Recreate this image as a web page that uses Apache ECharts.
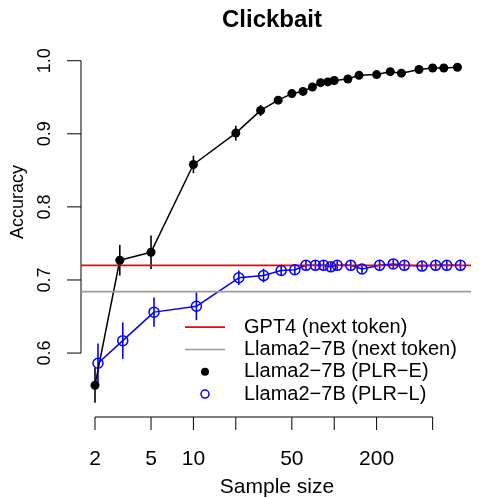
<!DOCTYPE html>
<html>
<head>
<meta charset="utf-8">
<script src="https://cdn.jsdelivr.net/npm/echarts@6/dist/echarts.min.js"></script>
<style>
html, body { margin: 0; padding: 0; background: #fff; }
#chart { width: 498px; height: 498px; }
</style>
</head>
<body>
<div id="chart"></div>
<script>
// values
var sizesE = [2, 3, 5, 10, 20, 30, 40, 50, 60, 70, 80, 90, 100, 125, 150, 200, 250, 300, 400, 500, 600, 750];
var accE = [0.556, 0.727, 0.738, 0.858, 0.901, 0.932, 0.946, 0.955, 0.958, 0.964, 0.970, 0.971, 0.973, 0.975, 0.980, 0.981, 0.985, 0.983, 0.988, 0.990, 0.990, 0.991];
var errE = [0.024, 0.021, 0.023, 0.012, 0.010, 0.0075, 0.005, 0.004, 0.003, 0.003, 0.003, 0.003, 0.003, 0.003, 0.003, 0.003, 0.003, 0.003, 0.003, 0.003, 0.003, 0.003];

var sizesL = [2.1, 3.15, 5.25, 10.5, 21, 31.5, 42, 52.5, 63, 73.5, 84, 94.5, 105, 131, 157.5, 210, 262.5, 315, 420, 525, 630, 787.5];
var accL = [0.586, 0.617, 0.656, 0.664, 0.703, 0.706, 0.713, 0.714, 0.720, 0.720, 0.720, 0.718, 0.720, 0.720, 0.715, 0.720, 0.722, 0.720, 0.719, 0.720, 0.720, 0.720];
var errL = [0.027, 0.025, 0.020, 0.019, 0.010, 0.0095, 0.007, 0.007, 0.006, 0.006, 0.006, 0.006, 0.006, 0.006, 0.006, 0.006, 0.006, 0.006, 0.006, 0.006, 0.006, 0.006];

var gpt4Acc = 0.720;
var llamaAcc = 0.684;

var xTicks = [2, 5, 10, 20, 50, 100, 200, 500];
var xTickLabels = ['2', '5', '10', '', '50', '', '200', ''];
var yTicks = [0.6, 0.7, 0.8, 0.9, 1.0];
var yTickLabels = ['0.6', '0.7', '0.8', '0.9', '1.0'];

var names = ['GPT4 (next token)', 'Llama2\u22127B (next token)', 'Llama2\u22127B (PLR\u2212E)', 'Llama2\u22127B (PLR\u2212L)'];

// plot region extent (R adds 4% around the data)
var xMin = 1.591, xMax = 936;
var yMin = 0.5125, yMax = 1.0133;

var FONT = '"Liberation Sans", Arial, sans-serif';

function zip(xs, ys) {
    return xs.map(function (x, i) { return [x, ys[i]]; });
}
function bars(xs, ys, es) {
    return xs.map(function (x, i) { return [x, ys[i] - es[i], ys[i] + es[i]]; });
}

function errorBars(color) {
    return function (params, api) {
        var a = api.coord([api.value(0), api.value(1)]);
        var b = api.coord([api.value(0), api.value(2)]);
        return {
            type: 'line',
            shape: {x1: a[0], y1: a[1], x2: b[0], y2: b[1]},
            style: {stroke: color, lineWidth: 1.6}
        };
    };
}

function renderXAxis(params, api) {
    var p = api.coord([api.value(0), yMin]);
    var kids = [{
        type: 'line',
        shape: {x1: p[0], y1: p[1], x2: p[0], y2: p[1] + 13},
        style: {stroke: '#000', lineWidth: 1}
    }];
    var lbl = xTickLabels[params.dataIndex];
    if (lbl) {
        kids.push({
            type: 'text', x: p[0], y: p[1] + 42,
            style: {text: lbl, fill: '#000', fontSize: 21, fontFamily: FONT, align: 'center', verticalAlign: 'middle'}
        });
    }
    if (params.dataIndex === 0) {
        var q = api.coord([xTicks[xTicks.length - 1], yMin]);
        kids.push({
            type: 'line',
            shape: {x1: p[0], y1: p[1], x2: q[0], y2: q[1]},
            style: {stroke: '#000', lineWidth: 1}
        });
    }
    return {type: 'group', children: kids};
}

function renderYAxis(params, api) {
    var p = api.coord([xMin, api.value(0)]);
    var kids = [{
        type: 'line',
        shape: {x1: p[0] - 14, y1: p[1], x2: p[0], y2: p[1]},
        style: {stroke: '#000', lineWidth: 1}
    }, {
        type: 'text', x: p[0] - 27, y: p[1], rotation: Math.PI / 2,
        style: {text: yTickLabels[params.dataIndex], fill: '#000', fontSize: 18, fontFamily: FONT, align: 'center', verticalAlign: 'bottom'}
    }];
    if (params.dataIndex === 0) {
        var q = api.coord([xMin, yTicks[yTicks.length - 1]]);
        kids.push({
            type: 'line',
            shape: {x1: p[0], y1: p[1], x2: q[0], y2: q[1]},
            style: {stroke: '#000', lineWidth: 1}
        });
    }
    return {type: 'group', children: kids};
}

var chart = echarts.init(document.getElementById('chart'));

var option = {
    animation: false,
    backgroundColor: '#fff',
    title: {
        text: 'Clickbait',
        left: 217,
        top: 3,
        textStyle: {fontSize: 24, fontWeight: 'bold', fontFamily: FONT, color: '#000'}
    },
    grid: {left: 81, right: 27, top: 51, bottom: 81},
    xAxis: {type: 'log', min: xMin, max: xMax, show: false},
    yAxis: {type: 'value', min: yMin, max: yMax, show: false},
    legend: {
        orient: 'vertical',
        left: 185,
        top: 316,
        padding: 0,
        itemGap: 0,
        itemWidth: 40,
        itemHeight: 8,
        selectedMode: false,
        textStyle: {fontSize: 20, fontFamily: FONT, color: '#000', lineHeight: 22.3, padding: [0, 0, 0, 14]},
        data: [
            {name: names[0], icon: 'path://M0,0L40,0L40,1.6L0,1.6Z'},
            {name: names[1], icon: 'path://M0,0L40,0L40,1.6L0,1.6Z'},
            {name: names[2], icon: 'circle'},
            {name: names[3], icon: 'circle', itemStyle: {color: 'rgba(0,0,0,0)', borderColor: '#0000ff', borderWidth: 1.5}}
        ]
    },
    graphic: [
        {type: 'text', x: 277, y: 487, style: {text: 'Sample size', fill: '#000', fontSize: 21, fontFamily: FONT, align: 'center', verticalAlign: 'middle'}},
        {type: 'text', x: 27, y: 202, rotation: Math.PI / 2, style: {text: 'Accuracy', fill: '#000', fontSize: 18, fontFamily: FONT, align: 'center', verticalAlign: 'bottom'}}
    ],
    series: [
        {
            name: 'xaxis', type: 'custom', clip: false, silent: true,
            data: xTicks, encode: {x: 0}, renderItem: renderXAxis
        },
        {
            name: 'yaxis', type: 'custom', clip: false, silent: true,
            data: yTicks, encode: {y: 0}, renderItem: renderYAxis
        },
        {
            name: 'errE', type: 'custom', clip: false, silent: true,
            data: bars(sizesE, accE, errE), encode: {x: 0, y: [1, 2]},
            renderItem: errorBars('#000')
        },
        {
            name: names[2], type: 'line',
            data: zip(sizesE, accE),
            symbol: 'circle', symbolSize: 9,
            itemStyle: {color: '#000'},
            lineStyle: {color: '#000', width: 1.5}
        },
        {
            name: 'errL', type: 'custom', clip: false, silent: true,
            data: bars(sizesL, accL, errL), encode: {x: 0, y: [1, 2]},
            renderItem: errorBars('#0000ff')
        },
        {
            name: names[3], type: 'line',
            data: zip(sizesL, accL),
            symbol: 'circle', symbolSize: 10,
            itemStyle: {color: 'rgba(0,0,0,0)', borderColor: '#0000ff', borderWidth: 1.5},
            lineStyle: {color: '#0000ff', width: 1.5}
        },
        {
            name: names[0], type: 'line', symbol: 'none',
            data: [[xMin, gpt4Acc], [xMax, gpt4Acc]],
            itemStyle: {color: '#ff0000'},
            lineStyle: {color: '#ff0000', width: 1.6}
        },
        {
            name: names[1], type: 'line', symbol: 'none',
            data: [[xMin, llamaAcc], [xMax, llamaAcc]],
            itemStyle: {color: '#9a9a9a'},
            lineStyle: {color: '#9a9a9a', width: 1.8}
        }
    ]
};

chart.setOption(option);
</script>
</body>
</html>
